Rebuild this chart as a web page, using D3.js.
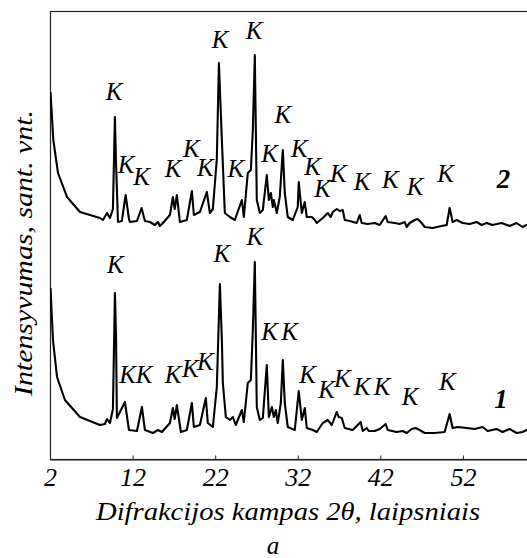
<!DOCTYPE html>
<html><head><meta charset="utf-8">
<script src="https://cdn.jsdelivr.net/npm/d3@7"></script>
<style>
html,body{margin:0;padding:0;background:#fff;}
</style></head>
<body>
<svg id="chart" width="527" height="558"></svg>
<script>
// 2θ (degrees) for each sample of the curves
const angle2 = [2.06,2.4,2.97,4.06,5.63,8.05,8.41,8.9,9.26,9.62,9.86,9.98,10.23,10.7,11.16,11.56,11.68,12.53,13.09,13.49,14.1,14.7,15.07,15.3,15.67,16.52,16.88,17.1,17.36,17.73,18.57,19.18,19.42,20.15,20.99,21.36,21.72,22.2,22.45,22.81,23.17,23.78,24.38,25.23,25.47,25.95,26.32,26.56,26.8,27.04,27.41,27.77,28.25,28.5,28.74,28.98,29.1,29.46,29.82,30.19,30.43,30.79,31.4,32.0,32.12,32.49,32.85,33.09,33.7,34.06,34.3,35.03,35.63,35.99,36.24,36.72,37.08,37.45,37.69,38.29,39.14,39.5,39.74,40.47,41.32,41.92,42.65,42.89,43.74,44.34,44.95,45.19,45.55,46.16,46.52,47.0,47.37,48.33,49.42,50.03,50.39,50.75,51.24,51.96,52.81,53.66,54.26,54.87,55.59,56.68,57.65,58.5,59.22,59.71,60];
// intensity of curve 2 (upper, already offset), arbitrary units
const intensity2 = [367,319,286,262,247,241,239,246,241,250,342,300,237,238,264,240,237,238,251,238,237,234,237,233,236,244,262,250,264,237,239,268,244,247,267,246,250,300,396,319,246,242,239,259,242,286,289,329,404,259,246,249,284,259,266,252,259,246,262,309,266,242,239,252,277,246,257,242,242,239,236,241,246,242,247,250,248,249,239,238,236,244,236,235,236,234,243,237,236,235,237,232,236,239,240,236,232,231,233,234,251,237,239,236,235,237,234,236,234,236,233,236,232,234,234];

const angle1 = [2.06,2.36,2.85,3.81,5.63,8.05,8.65,8.9,9.26,9.62,9.86,10.0,10.1,11.07,11.56,12.53,13.13,13.49,14.46,15.07,15.55,16.52,16.88,17.1,17.36,17.85,18.57,19.18,19.42,20.15,20.87,21.11,21.72,22.2,22.57,22.81,22.93,23.29,23.78,24.14,24.5,25.23,25.47,25.95,26.32,26.56,26.8,27.04,27.41,27.77,28.25,28.5,28.86,29.1,29.34,29.58,29.95,30.19,30.43,30.79,31.64,32.12,32.49,32.85,33.09,33.82,34.3,35.03,35.63,36.12,36.72,36.96,37.33,37.69,38.66,39.62,39.87,40.35,40.59,41.32,41.92,42.65,42.89,43.98,44.71,45.19,45.79,46.28,46.76,47.37,48.58,49.79,50.39,50.75,51.36,52.45,53.42,54.38,54.99,56.08,56.8,57.65,58.5,59.22,59.71,60];
// intensity of curve 1 (lower), arbitrary units
const intensity1 = [171,119,82,59,42,34,35,40,36,50,166,120,41,57,29,28,52,29,26,29,27,36,51,40,54,27,29,56,32,34,61,36,32,72,175,119,76,42,39,42,34,49,37,76,79,129,197,52,39,41,94,42,52,42,49,36,56,99,56,32,29,68,39,51,31,29,27,36,39,34,47,42,41,31,29,37,28,31,28,28,30,35,29,27,28,26,30,31,29,26,26,27,45,31,32,31,30,32,28,30,27,30,26,27,29,29];

// "K" peak markers: [2θ, intensity] where each label sits
const kLabels2 = [[9.75,359],[11.2,286],[13.1,274],[16.9,282],[19.1,302],[20.8,283],[22.6,411],[24.5,282],[26.7,420],[28.6,297],[30.2,336],[32.2,302],[33.8,284],[35.0,262],[36.9,277],[39.8,269],[43.2,271],[46.2,264],[49.9,277]];
const kLabels1 = [[9.9,186],[11.4,76],[13.4,76],[16.9,76],[19.0,82],[20.8,89],[22.8,197],[26.8,214],[28.6,119],[31.0,119],[33.2,76],[35.5,61],[37.4,72],[39.8,64],[42.2,64],[45.6,54],[50.1,69]];
const seriesNames = ["1","2"];
const seriesLabelPos = [[56.6,51],[56.9,271]];
const xTicks = [2,12,22,32,42,52];

const FONT = "Liberation Serif";
const svg = d3.select("#chart");
const margin = {left:50, top:11, right:529, bottom:459};
const x = d3.scaleLinear().domain([2,60]).range([margin.left, margin.right]);
const y = d3.scaleLinear().domain([0,448]).range([margin.bottom, margin.top]);

function txt(sel, size){
  return sel.attr("font-family",FONT).attr("font-style","italic").attr("font-size",size).attr("fill","#000");
}

// frame
svg.append("rect").attr("x",margin.left+0.5).attr("y",margin.top+0.5)
  .attr("width",margin.right-margin.left).attr("height",margin.bottom-margin.top)
  .attr("fill","none").attr("stroke","#222").attr("stroke-width",1.2);

// x axis: ticks inward
const xAxis = d3.axisBottom(x).tickValues(xTicks).tickSizeInner(-4).tickSizeOuter(0).tickPadding(10).tickFormat(d3.format("d"));
const gx = svg.append("g").attr("transform",`translate(0,${margin.bottom+0.5})`).call(xAxis);
gx.attr("font-family",FONT).attr("font-size",25);
gx.select(".domain").attr("stroke","#222").attr("stroke-width",1.2);
gx.selectAll(".tick line").attr("stroke","#222");
txt(gx.selectAll(".tick text"),26).attr("dy","0").attr("y",26);

const line = d3.line().x(d=>x(d[0])).y(d=>y(d[1])).curve(d3.curveLinear);
const data1 = angle1.map((a,i)=>[a,intensity1[i]]);
const data2 = angle2.map((a,i)=>[a,intensity2[i]]);
svg.append("clipPath").attr("id","c").append("rect")
  .attr("x",margin.left).attr("y",margin.top).attr("width",margin.right-margin.left).attr("height",margin.bottom-margin.top);
[data1,data2].forEach(d=>{
  svg.append("path").datum(d).attr("d",line).attr("fill","none")
    .attr("stroke","#000").attr("stroke-width",2.1).attr("stroke-linejoin","round")
    .attr("clip-path","url(#c)");
});

// K labels
[kLabels2,kLabels1].forEach(arr=>{
  txt(svg.selectAll(null).data(arr).enter().append("text"),25)
    .attr("x",d=>x(d[0])).attr("y",d=>y(d[1]))
    .attr("text-anchor","middle").text("K");
});
// series numbers
txt(svg.selectAll(null).data(seriesNames).enter().append("text"),27)
  .attr("x",(d,i)=>x(seriesLabelPos[i][0])).attr("y",(d,i)=>y(seriesLabelPos[i][1]))
  .attr("text-anchor","middle").attr("font-weight","bold").text(d=>d);

// axis titles
txt(svg.append("text"),25).attr("x",288).attr("y",520).attr("text-anchor","middle")
  .attr("textLength",384).attr("lengthAdjust","spacingAndGlyphs")
  .text("Difrakcijos kampas 2θ, laipsniais");
txt(svg.append("text"),26).attr("transform","translate(32,253) rotate(-90)").attr("text-anchor","middle")
  .attr("textLength",286).attr("lengthAdjust","spacingAndGlyphs")
  .text("Intensyvumas, sant. vnt.");
txt(svg.append("text"),25).attr("x",273).attr("y",554).attr("text-anchor","middle").text("a");
</script>
</body></html>
